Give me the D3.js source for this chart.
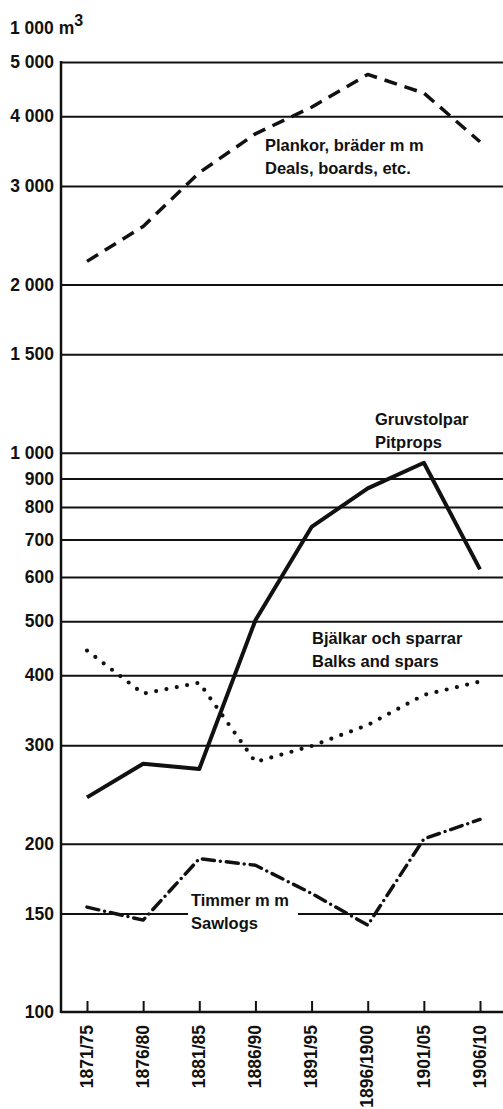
<!DOCTYPE html>
<html>
<head>
<meta charset="utf-8">
<script src="https://cdn.jsdelivr.net/npm/d3@7"></script>
<style>
  body { margin: 0; background: #fff; }
  svg { display: block; }
  text { font-family: "Liberation Sans", Arial, sans-serif; font-weight: bold; fill: #111; }
</style>
</head>
<body>
<svg width="503" height="1109"></svg>
<script>
// periods on the x axis
const periods = ['1871/75', '1876/80', '1881/85', '1886/90', '1891/95', '1896/1900', '1901/05', '1906/10']

// thousand m3
const plankor = [2200, 2540, 3170, 3720, 4150, 4750, 4400, 3600]
const gruvstolpar = [242, 278, 272, 502, 737, 864, 960, 619]
const bjalkar = [443, 371, 388, 280, 299, 326, 369, 390]
const timmer = [154, 146, 188, 183, 163, 143, 204, 221]

const yTicks = [100, 150, 200, 300, 400, 500, 600, 700, 800, 900, 1000, 1500, 2000, 3000, 4000, 5000]

function main() {
  let svg = d3.select('svg'),
    left = 61,
    right = 503,
    top = 62,
    bottom = 1012

  let x = d3.scalePoint().domain(periods).range([87, 480]),
    y = d3.scaleLog().domain([100, 5000]).range([bottom, top])

  // "1 000" style with a space as thousands separator
  let fmt = d => d >= 1000 ? Math.floor(d / 1000) + ' ' + String(d % 1000).padStart(3, '0') : String(d)

  // unit label
  let title = svg.append('text').attr('x', 10).attr('y', 34).style('font-size', '17.5px')
  title.append('tspan').text('1 000 m')
  title.append('tspan').attr('dy', -8).style('font-size', '16px').text('3')

  // gridlines
  svg.append('g')
    .attr('transform', 'translate(' + left + ',0)')
    .call(d3.axisLeft(y).tickValues(yTicks.filter(d => d > 100)).tickSize(-(right - left)).tickFormat(''))
    .call(g => g.select('.domain').remove())
    .call(g => g.selectAll('.tick line').attr('stroke', '#111').attr('stroke-width', 2))

  // y axis labels
  svg.append('g')
    .attr('transform', 'translate(' + left + ',0)')
    .call(d3.axisLeft(y).tickValues(yTicks).tickSize(0).tickPadding(7).tickFormat(fmt))
    .call(g => g.select('.domain').remove())
    .call(g => g.selectAll('text').style('font-size', '17.5px').style('font-family', '"Liberation Sans", Arial, sans-serif').style('font-weight', 'bold'))

  // white patch behind the sawlogs label (breaks the 150 line)
  svg.append('rect').attr('x', 188).attr('y', 903).attr('width', 110).attr('height', 20).attr('fill', '#fff')

  // x axis
  let xa = svg.append('g')
    .attr('transform', 'translate(0,' + bottom + ')')
    .call(d3.axisBottom(x).tickSize(-11).tickSizeOuter(0))
  xa.select('.domain').remove()
  xa.selectAll('.tick line').attr('stroke', '#111').attr('stroke-width', 2)
  xa.selectAll('text')
    .style('font-size', '17.5px')
    .style('font-family', '"Liberation Sans", Arial, sans-serif')
    .style('font-weight', 'bold')
    .attr('transform', 'rotate(-90)')
    .attr('x', -13)
    .attr('y', 0)
    .attr('dy', '0.3em')
    .style('text-anchor', 'end')

  // axis lines
  svg.append('line').attr('x1', left).attr('x2', left).attr('y1', top - 1).attr('y2', bottom + 1)
    .attr('stroke', '#111').attr('stroke-width', 2.5)
  svg.append('line').attr('x1', left).attr('x2', right).attr('y1', bottom).attr('y2', bottom)
    .attr('stroke', '#111').attr('stroke-width', 2.5)

  let line = d3.line().x((d, i) => x(periods[i])).y(d => y(d))

  let series = [
    { values: plankor, dash: '13,8', cap: 'butt', w: 3.5 },
    { values: gruvstolpar, dash: null, cap: 'butt', w: 4 },
    { values: bjalkar, dash: '0,10.5', cap: 'round', w: 4.2 },
    { values: timmer, dash: '12,6,0,6', cap: 'round', w: 3.5 }
  ]

  svg.selectAll('.series')
    .data(series)
    .enter()
    .append('path')
    .attr('class', 'series')
    .attr('d', d => line(d.values))
    .attr('fill', 'none')
    .attr('stroke', '#111')
    .attr('stroke-width', d => d.w)
    .attr('stroke-linecap', d => d.cap)
    .attr('stroke-linejoin', 'round')
    .attr('stroke-dasharray', d => d.dash)

  // series labels
  let labels = [
    { x: 265, y: 151, lines: ['Plankor, bräder m m', 'Deals, boards, etc.'] },
    { x: 375, y: 425, lines: ['Gruvstolpar', 'Pitprops'] },
    { x: 312, y: 644, lines: ['Bjälkar och sparrar', 'Balks and spars'] },
    { x: 191, y: 906, lines: ['Timmer m m', 'Sawlogs'] }
  ]
  labels.forEach(l => {
    let t = svg.append('text').attr('x', l.x).attr('y', l.y).style('font-size', '16.5px')
    l.lines.forEach((s, i) => {
      t.append('tspan').attr('x', l.x).attr('dy', i === 0 ? 0 : 23).text(s)
    })
  })
}

main()
</script>
</body>
</html>
